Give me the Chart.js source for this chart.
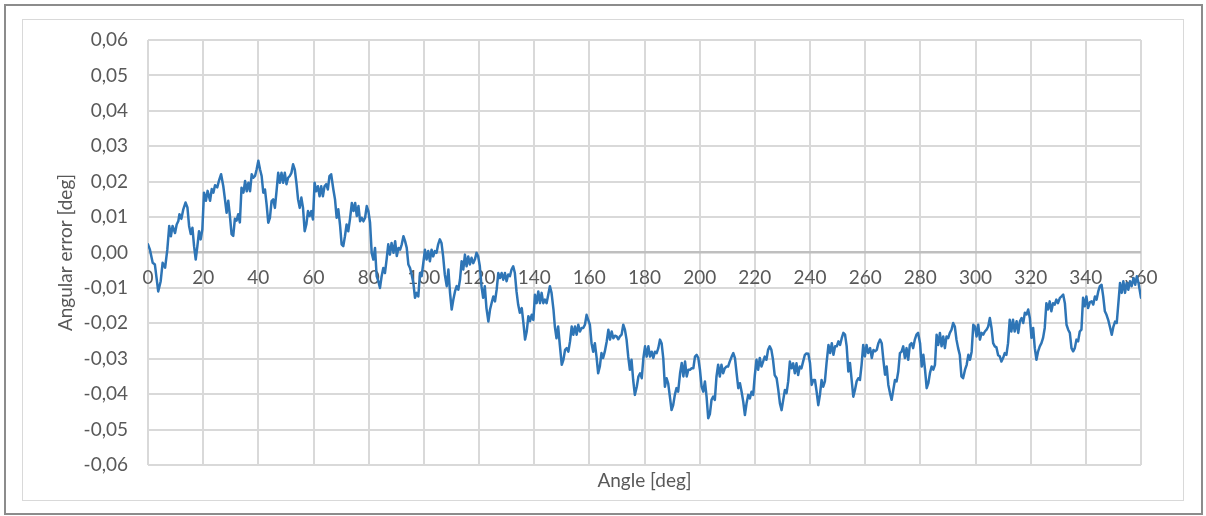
<!DOCTYPE html>
<html><head><meta charset="utf-8">
<script src="https://cdn.jsdelivr.net/npm/chart.js@4.4.1/dist/chart.umd.min.js"></script>
<style>
html,body{margin:0;padding:0;background:#fff;overflow:hidden;width:1206px;height:516px;}
#outer{position:absolute;left:4px;top:4px;width:1195px;height:507px;border:2px solid #8c8c8c;}
#inner{position:absolute;left:22px;top:19px;width:1160px;height:480px;border:1px solid #d9d9d9;}
canvas{position:absolute;left:0;top:0;}
</style></head><body>
<div id="outer"></div><div id="inner"></div>
<canvas id="c" width="1206" height="516"></canvas>
<script>
const xTitle = 'Angle [deg]';
const yTitle = 'Angular error [deg]';
const xMin = 0, xMax = 360, xStep = 20;
const yMin = -0.06, yMax = 0.06, yStep = 0.01;

const angleDeg = [
0.0,0.7,1.7,2.5,3.7,4.6,5.3,6.2,7.0,7.7,
8.3,8.9,9.8,10.4,11.0,11.4,12.1,12.8,13.6,14.3,
14.9,15.5,16.1,16.7,17.3,17.9,18.5,19.1,19.7,20.3,
21.0,21.6,22.5,23.1,23.7,24.3,25.1,25.7,26.5,27.3,
27.9,28.5,29.1,29.7,30.3,30.9,31.5,32.1,32.7,33.3,
33.9,34.6,35.2,35.8,36.4,37.0,37.6,38.2,38.8,39.4,
40.0,40.6,41.2,41.8,42.4,43.0,43.6,44.2,44.8,45.4,
46.0,46.6,47.2,47.8,48.4,49.0,49.6,50.2,50.8,51.4,
52.0,52.6,53.2,53.8,54.4,55.0,55.6,56.2,56.8,57.4,
58.0,58.6,59.2,59.8,60.4,61.0,61.6,62.2,62.8,63.4,
64.0,64.6,65.2,65.8,66.4,67.2,67.8,68.4,69.0,69.6,
70.2,70.8,71.4,72.0,72.6,73.2,73.9,74.5,75.1,75.7,
76.3,76.9,77.5,78.1,78.7,79.3,79.9,80.5,81.1,81.7,
82.3,82.9,83.5,84.1,84.7,85.3,85.9,86.5,87.1,87.7,
88.3,89.0,89.6,90.2,90.8,91.4,92.0,92.6,93.2,93.8,
94.4,95.0,95.6,96.2,96.8,97.4,98.0,98.6,99.2,99.8,
100.4,101.0,101.6,102.2,102.8,103.4,104.0,104.6,105.2,105.8,
106.4,107.0,107.6,108.3,108.9,109.5,110.1,110.7,111.3,111.9,
112.5,113.1,113.7,114.3,114.9,115.5,116.1,116.7,117.3,117.9,
118.5,119.1,119.7,120.3,120.9,121.5,122.1,122.7,123.4,124.0,
124.6,125.2,125.8,126.4,127.0,127.6,128.2,128.8,129.4,130.0,
130.6,131.2,131.8,132.4,133.0,133.6,134.2,134.8,135.5,136.1,
136.7,137.3,137.9,138.5,139.1,139.7,140.3,140.9,141.5,142.1,
142.7,143.3,143.9,144.5,145.1,145.7,146.3,147.0,147.5,148.1,
148.7,149.3,150.0,150.6,151.2,151.8,152.4,153.0,153.6,154.2,
154.8,155.4,156.0,156.6,157.2,157.8,158.4,159.0,159.6,160.2,
160.8,161.4,162.0,162.6,163.2,163.8,164.4,165.0,165.6,166.3,
166.9,167.5,168.1,168.7,169.3,169.9,170.5,171.1,171.7,172.3,
172.9,173.5,174.1,174.7,175.3,175.9,176.5,177.2,177.8,178.4,
179.0,179.6,180.2,180.8,181.4,182.0,182.6,183.2,183.8,184.4,
185.0,185.6,186.2,186.8,187.4,188.0,188.6,189.2,189.8,190.4,
191.0,191.6,192.2,192.9,193.5,194.1,194.7,195.3,195.9,196.5,
197.1,197.7,198.3,198.9,199.5,200.1,200.7,201.3,201.9,202.5,
203.1,203.7,204.3,204.9,205.5,206.1,206.7,207.3,207.9,208.5,
209.1,209.7,210.3,210.9,211.6,212.2,212.8,213.4,214.0,214.6,
215.2,215.8,216.4,217.0,217.6,218.2,218.8,219.4,220.0,220.6,
221.2,221.8,222.4,223.0,223.6,224.2,224.8,225.4,226.0,226.6,
227.2,227.9,228.5,229.1,229.7,230.3,230.9,231.5,232.1,232.7,
233.3,233.9,234.5,235.1,235.7,236.3,236.9,237.5,238.1,238.7,
239.4,240.0,240.6,241.2,241.8,242.4,243.0,243.6,244.2,244.8,
245.4,246.0,246.7,247.3,247.9,248.5,249.1,249.7,250.3,250.9,
251.5,252.1,252.7,253.3,253.9,254.5,255.1,255.7,256.3,256.9,
257.5,258.1,258.7,259.3,259.9,260.5,261.1,261.8,262.4,263.0,
263.6,264.2,264.8,265.4,266.0,266.6,267.2,267.8,268.4,269.0,
269.6,270.2,270.8,271.4,272.0,272.6,273.2,273.8,274.4,275.0,
275.6,276.2,276.8,277.4,278.0,278.6,279.2,279.9,280.5,281.1,
281.7,282.3,282.9,283.5,284.1,284.7,285.3,285.9,286.5,287.1,
287.7,288.3,288.9,289.5,290.1,290.7,291.3,291.9,292.5,293.1,
293.7,294.3,294.9,295.5,296.2,296.8,297.4,298.0,298.6,299.2,
299.8,300.4,301.0,301.6,302.2,302.8,303.4,304.0,304.6,305.2,
305.8,306.4,307.0,307.6,308.2,308.8,309.4,310.0,310.6,311.2,
311.8,312.4,313.0,313.6,314.2,314.9,315.5,316.1,316.7,317.3,
317.9,318.5,319.1,319.7,320.3,320.9,321.5,322.1,322.7,323.3,
323.9,324.5,325.1,325.7,326.3,326.9,327.5,328.1,328.7,329.3,
329.9,330.6,331.2,331.8,332.4,333.0,333.6,334.2,334.8,335.4,
336.0,336.6,337.2,337.8,338.4,339.0,339.6,340.2,340.8,341.5,
342.1,342.7,343.3,343.9,344.5,345.1,345.7,346.3,346.9,347.5,
348.1,348.7,349.4,350.0,350.6,351.2,351.8,352.4,353.0,353.6,
354.2,354.8,355.4,356.0,356.6,357.3,357.9,358.5,359.1,360.0
];

const errorDeg = [
0.0023,0.0008,-0.0029,-0.0034,-0.0110,-0.0081,-0.0029,-0.0043,0.0008,0.0075,
0.0046,0.0075,0.0055,0.0079,0.0089,0.0108,0.0095,0.0122,0.0141,0.0127,
0.0075,0.0052,0.0070,0.0018,-0.0020,0.0018,0.0060,0.0037,0.0065,0.0169,
0.0146,0.0174,0.0146,0.0179,0.0169,0.0190,0.0184,0.0202,0.0221,0.0187,
0.0150,0.0112,0.0146,0.0103,0.0052,0.0047,0.0095,0.0090,0.0108,0.0085,
0.0183,0.0169,0.0202,0.0173,0.0197,0.0173,0.0221,0.0211,0.0216,0.0235,
0.0259,0.0235,0.0216,0.0169,0.0178,0.0136,0.0084,0.0098,0.0145,0.0150,
0.0126,0.0173,0.0225,0.0197,0.0225,0.0197,0.0225,0.0193,0.0211,0.0216,
0.0225,0.0249,0.0235,0.0197,0.0150,0.0126,0.0155,0.0126,0.0060,0.0079,
0.0117,0.0103,0.0117,0.0093,0.0197,0.0173,0.0187,0.0159,0.0187,0.0159,
0.0187,0.0193,0.0178,0.0216,0.0221,0.0178,0.0150,0.0098,0.0122,0.0079,
0.0023,0.0018,0.0046,0.0079,0.0060,0.0093,0.0140,0.0117,0.0140,0.0103,
0.0131,0.0088,0.0098,0.0088,0.0098,0.0131,0.0117,0.0084,-0.0001,-0.0020,
0.0013,-0.0067,-0.0081,-0.0100,-0.0067,-0.0044,-0.0058,-0.0020,0.0023,-0.0006,
0.0027,-0.0001,0.0032,-0.0010,0.0013,0.0008,0.0023,0.0046,0.0032,0.0013,
-0.0034,-0.0044,-0.0063,-0.0086,-0.0128,-0.0114,-0.0124,-0.0058,-0.0067,-0.0030,
0.0008,-0.0020,0.0004,-0.0025,0.0008,-0.0011,0.0004,-0.0001,0.0023,0.0037,
0.0027,-0.0011,-0.0062,-0.0095,-0.0048,-0.0114,-0.0161,-0.0133,-0.0110,-0.0095,
-0.0105,-0.0077,-0.0025,-0.0048,-0.0006,-0.0039,-0.0011,-0.0034,-0.0015,-0.0030,
-0.0020,-0.0001,-0.0011,-0.0039,-0.0095,-0.0128,-0.0095,-0.0157,-0.0195,-0.0161,
-0.0142,-0.0124,-0.0138,-0.0105,-0.0058,-0.0072,-0.0058,-0.0077,-0.0058,-0.0081,
-0.0062,-0.0067,-0.0048,-0.0039,-0.0058,-0.0110,-0.0147,-0.0170,-0.0157,-0.0199,
-0.0246,-0.0223,-0.0180,-0.0194,-0.0176,-0.0190,-0.0119,-0.0143,-0.0110,-0.0143,
-0.0114,-0.0143,-0.0133,-0.0143,-0.0119,-0.0095,-0.0114,-0.0161,-0.0209,-0.0242,
-0.0209,-0.0261,-0.0317,-0.0303,-0.0275,-0.0270,-0.0280,-0.0251,-0.0209,-0.0232,
-0.0209,-0.0232,-0.0204,-0.0223,-0.0213,-0.0213,-0.0204,-0.0176,-0.0190,-0.0204,
-0.0256,-0.0280,-0.0256,-0.0294,-0.0341,-0.0322,-0.0284,-0.0298,-0.0280,-0.0251,
-0.0218,-0.0246,-0.0223,-0.0242,-0.0235,-0.0237,-0.0245,-0.0237,-0.0232,-0.0204,
-0.0218,-0.0246,-0.0294,-0.0331,-0.0303,-0.0360,-0.0402,-0.0379,-0.0350,-0.0341,
-0.0355,-0.0298,-0.0265,-0.0294,-0.0265,-0.0294,-0.0280,-0.0298,-0.0280,-0.0284,
-0.0270,-0.0246,-0.0256,-0.0298,-0.0379,-0.0355,-0.0370,-0.0407,-0.0445,-0.0431,
-0.0402,-0.0383,-0.0393,-0.0341,-0.0312,-0.0350,-0.0308,-0.0350,-0.0331,-0.0331,
-0.0327,-0.0327,-0.0294,-0.0289,-0.0298,-0.0331,-0.0379,-0.0393,-0.0364,-0.0407,
-0.0468,-0.0456,-0.0416,-0.0407,-0.0416,-0.0350,-0.0317,-0.0350,-0.0317,-0.0341,
-0.0327,-0.0322,-0.0322,-0.0308,-0.0294,-0.0284,-0.0298,-0.0341,-0.0383,-0.0369,
-0.0393,-0.0421,-0.0459,-0.0426,-0.0402,-0.0412,-0.0393,-0.0402,-0.0346,-0.0303,
-0.0331,-0.0298,-0.0322,-0.0308,-0.0294,-0.0303,-0.0275,-0.0265,-0.0275,-0.0303,
-0.0346,-0.0355,-0.0388,-0.0426,-0.0445,-0.0416,-0.0388,-0.0397,-0.0364,-0.0308,
-0.0327,-0.0313,-0.0341,-0.0313,-0.0346,-0.0322,-0.0327,-0.0308,-0.0290,-0.0285,
-0.0286,-0.0312,-0.0374,-0.0360,-0.0360,-0.0393,-0.0431,-0.0402,-0.0360,-0.0379,
-0.0364,-0.0312,-0.0261,-0.0284,-0.0256,-0.0289,-0.0265,-0.0265,-0.0251,-0.0261,
-0.0242,-0.0227,-0.0232,-0.0265,-0.0336,-0.0312,-0.0360,-0.0407,-0.0388,-0.0364,
-0.0355,-0.0360,-0.0317,-0.0261,-0.0293,-0.0261,-0.0284,-0.0270,-0.0298,-0.0275,
-0.0279,-0.0275,-0.0256,-0.0246,-0.0256,-0.0303,-0.0345,-0.0322,-0.0374,-0.0397,
-0.0416,-0.0388,-0.0360,-0.0364,-0.0336,-0.0284,-0.0280,-0.0265,-0.0298,-0.0270,
-0.0303,-0.0261,-0.0256,-0.0270,-0.0246,-0.0232,-0.0227,-0.0256,-0.0322,-0.0289,
-0.0331,-0.0383,-0.0369,-0.0340,-0.0322,-0.0331,-0.0317,-0.0232,-0.0261,-0.0227,
-0.0265,-0.0237,-0.0270,-0.0237,-0.0242,-0.0227,-0.0218,-0.0199,-0.0209,-0.0246,
-0.0270,-0.0289,-0.0350,-0.0355,-0.0331,-0.0317,-0.0289,-0.0303,-0.0280,-0.0204,
-0.0209,-0.0237,-0.0204,-0.0246,-0.0227,-0.0232,-0.0223,-0.0218,-0.0209,-0.0185,
-0.0213,-0.0256,-0.0265,-0.0268,-0.0290,-0.0293,-0.0308,-0.0298,-0.0284,-0.0289,
-0.0256,-0.0190,-0.0223,-0.0190,-0.0223,-0.0194,-0.0227,-0.0194,-0.0185,-0.0199,
-0.0170,-0.0175,-0.0161,-0.0185,-0.0241,-0.0213,-0.0270,-0.0303,-0.0279,-0.0265,
-0.0256,-0.0241,-0.0213,-0.0143,-0.0161,-0.0138,-0.0166,-0.0143,-0.0147,-0.0133,
-0.0143,-0.0128,-0.0124,-0.0119,-0.0143,-0.0204,-0.0218,-0.0227,-0.0270,-0.0279,
-0.0270,-0.0246,-0.0251,-0.0223,-0.0218,-0.0128,-0.0152,-0.0124,-0.0157,-0.0140,
-0.0138,-0.0147,-0.0124,-0.0133,-0.0110,-0.0095,-0.0091,-0.0124,-0.0166,-0.0176,
-0.0190,-0.0209,-0.0232,-0.0209,-0.0195,-0.0199,-0.0143,-0.0086,-0.0114,-0.0081,
-0.0114,-0.0086,-0.0105,-0.0081,-0.0095,-0.0072,-0.0091,-0.0067,-0.0086,-0.0128
];

const points = angleDeg.map((a, i) => ({x: a, y: errorDeg[i]}));
const FONT = {family: 'Lato, "Liberation Sans", sans-serif', size: 19};
const TXT = '#595959';
const GRID = '#d9d9d9';
const isZero = v => Math.abs(v) < 1e-9;

new Chart(document.getElementById('c'), {
  type: 'line',
  data: {datasets: [{
    data: points, xAxisID: 'x', yAxisID: 'y',
    borderColor: '#2e75b6', borderWidth: 2.5, pointRadius: 0, tension: 0, fill: false,
    borderJoinStyle: 'round', borderCapStyle: 'round'
  }]},
  options: {
    responsive: false, animation: false, devicePixelRatio: 1,
    layout: {padding: {left: 0, top: 40, right: 65, bottom: 0}},
    plugins: {legend: {display: false}, tooltip: {enabled: false}},
    scales: {
      x: {
        type: 'linear', position: 'bottom', min: xMin, max: xMax,
        ticks: {display: false, stepSize: xStep},
        grid: {color: GRID, lineWidth: 2, drawTicks: false},
        border: {display: false},
        title: {display: true, text: xTitle, color: TXT, font: FONT, padding: {top: 0, bottom: 24}},
        afterFit(s) { s.height = 51; }
      },
      x2: {
        type: 'linear', axis: 'x', position: {y: 0}, min: xMin, max: xMax,
        ticks: {stepSize: xStep, color: TXT, font: FONT, padding: 14, maxRotation: 0, autoSkip: false},
        grid: {display: false, drawTicks: false},
        border: {display: false}
      },
      y: {
        type: 'linear', position: 'left', min: yMin, max: yMax,
        ticks: {
          stepSize: yStep, color: TXT, font: FONT, padding: 20,
          callback: v => { let r = Math.round(v * 100) / 100; if (isZero(r)) r = 0; return r.toFixed(2).replace('.', ','); }
        },
        grid: {
          color: c => (c.tick && isZero(c.tick.value)) ? '#bfbfbf' : GRID,
          lineWidth: c => (c.tick && isZero(c.tick.value)) ? 2.5 : 2,
          drawTicks: false
        },
        border: {display: false},
        title: {display: true, text: yTitle, color: TXT, font: FONT, padding: {top: 54, bottom: 0}},
        afterFit(s) { s.width = 148; }
      }
    }
  }
});
</script>
</body></html>
